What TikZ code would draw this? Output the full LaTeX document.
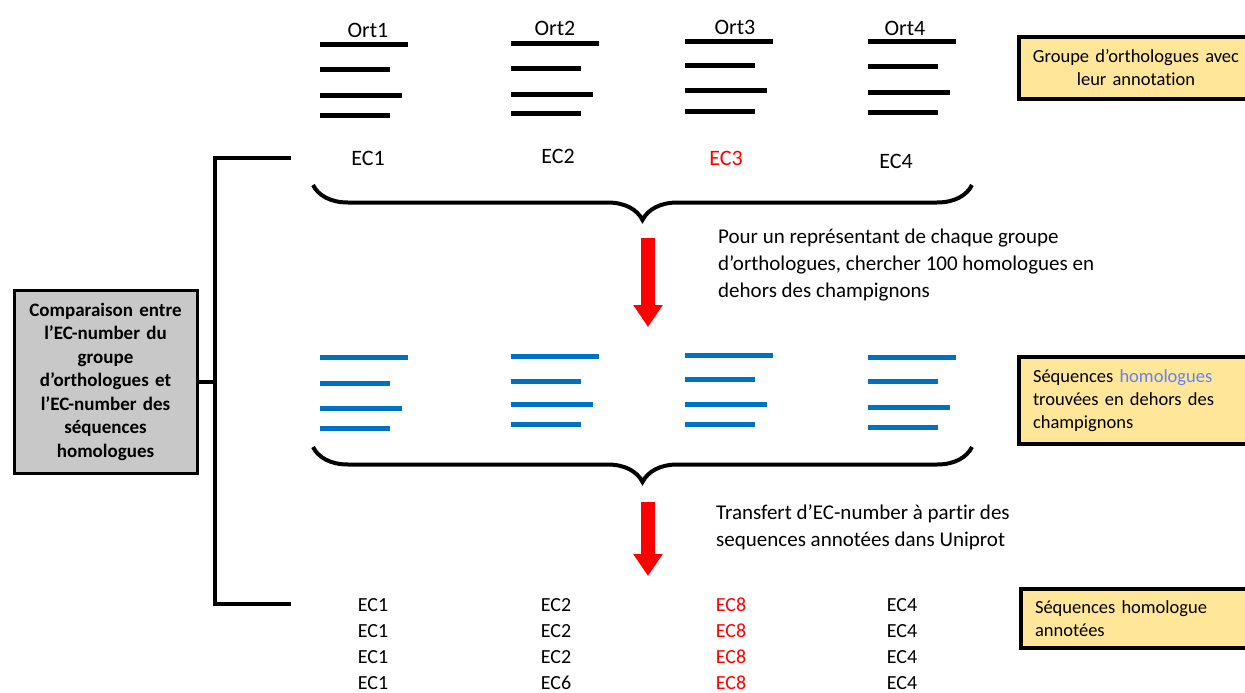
\documentclass[tikz,border=0pt]{standalone}
\usepackage{fontspec}
\setmainfont{Carlito}[Ligatures=NoCommon]
\usetikzlibrary{arrows.meta,positioning,decorations.pathreplacing,calc}
\definecolor{barblue}{RGB}{0,112,192}
\definecolor{noteyellow}{RGB}{255,230,153}
\definecolor{boxgray}{RGB}{200,200,200}
\definecolor{homblue}{RGB}{100,130,240}
\definecolor{ecred}{RGB}{255,0,0}

\begin{document}
\begin{tikzpicture}[
    x=1pt, y=-1pt,
    >=Stealth,
    bar/.style={line width=5pt},
    lbl/.style={font=\fontsize{22}{26}\selectfont, inner sep=0pt},
    ec/.style={font=\fontsize{20}{24}\selectfont, inner sep=0pt},
    note/.style={draw, line width=4pt, fill=noteyellow, inner xsep=14pt,
                 inner ysep=0pt, text width=205pt,
                 font=\fontsize{18.5}{23}\selectfont},
    curly/.style={decorate, decoration={brace, mirror, amplitude=35pt},
                  line width=4pt},
    bigarrow/.style={draw=red, line width=14pt,
                     -{Triangle[width=28pt,length=22pt]}},
    desc/.style={font=\fontsize{21}{27}\selectfont, align=left,
                 anchor=west, inner sep=0pt}
]
    \useasboundingbox (0,0) rectangle (1245,693);

    % orthologue groups (black) and homologue sequences (blue)
    \foreach \x/\a/\b/\c/\d in {320/45/70/95/115, 511/44/69/94/113,
                                685/42/66/90/111, 868/42/67/92/112}{
        \draw[bar] (\x,\a) -- ++(88,0);
        \draw[bar] (\x,\b) -- ++(70,0);
        \draw[bar] (\x,\c) -- ++(82,0);
        \draw[bar] (\x,\d) -- ++(70,0);
    }
    \foreach \x/\a/\b/\c/\d in {320/357/383/408/428, 511/356/381/404/424,
                                685/355/379/404/424, 868/357/381/407/427}{
        \draw[bar, barblue] (\x,\a) -- ++(88,0);
        \draw[bar, barblue] (\x,\b) -- ++(70,0);
        \draw[bar, barblue] (\x,\c) -- ++(82,0);
        \draw[bar, barblue] (\x,\d) -- ++(70,0);
    }

    \node[lbl] (ort1) at (368,30) {Ort1};
    \node[lbl] (ort2) at (555,28) {Ort2};
    \node[lbl] (ort3) at (735,27) {Ort3};
    \node[lbl] (ort4) at (905,28) {Ort4};

    \node[lbl] (ec1) at (368,158) {EC1};
    \node[lbl] (ec2) at (558,156) {EC2};
    \node[lbl, ecred] (ec3) at (726,158) {EC3};
    \node[lbl] (ec4) at (896,161) {EC4};

    % braces
    \draw[curly] (313,185) -- (972,185);
    \draw[curly] (313,447) -- (972,447);

    % red arrows
    \coordinate (a1s) at (648,238);
    \coordinate (a1e) at (648,327);
    \coordinate (a2s) at (648,502);
    \coordinate (a2e) at (648,576);
    \draw[bigarrow] (a1s) -- (a1e);
    \draw[bigarrow] (a2s) -- (a2e);

    \node[desc] (search) at (718,265)
        {Pour un représentant de chaque groupe\\
         d’orthologues, chercher 100 homologues en\\
         dehors des champignons};
    \node[desc] (transfer) at (716,527.5)
        {Transfert d’EC-number à partir des\\
         sequences annotées dans Uniprot};

    % transferred EC-numbers
    \foreach \y [count=\i] in {605,631,657,683}{
        \node[ec] (r\i c1) at (373,\y) {EC1};
        \node[ec, ecred] (r\i c3) at (731,\y) {EC8};
        \node[ec] (r\i c4) at (902,\y) {EC4};
    }
    \node[ec] (r1c2) at (556,605) {EC2};
    \node[ec] (r2c2) at (556,631) {EC2};
    \node[ec] (r3c2) at (556,657) {EC2};
    \node[ec] (r4c2) at (556,683) {EC6};

    % legend boxes
    \node[note, align=center, minimum height=62pt, anchor=west,
          inner xsep=2pt, text width=230pt]
        (ngroup) at (1017,68)
        {Groupe d’orthologues avec\\leur annotation};
    \node[note, align=left, minimum height=87pt, anchor=west]
        (nhom) at (1017,400.5)
        {Séquences \textcolor{homblue}{homologues}\\
         trouvées en dehors des\\champignons};
    \node[note, align=left, minimum height=59pt, anchor=west]
        (nannot) at (1019,618.5)
        {Séquences homologue\\annotées};

    % comparison box and its bracket
    \node[draw, line width=3pt, fill=boxgray, minimum width=183pt,
          minimum height=183pt, text width=175pt, align=center,
          inner sep=0pt, font=\bfseries\fontsize{19}{23.5}\selectfont]
        (cmp) at (105.5,381.5)
        {Comparaison entre\\l’EC-number du\\groupe\\d’orthologues et\\
         l’EC-number des\\séquences\\homologues};
    \coordinate (topend) at (291,158);
    \coordinate (botend) at (291,604);
    \coordinate (spine) at (215,381.5);
    \draw[line width=4pt] (topend) -| (spine) |- (botend);
    \draw[line width=4pt] (cmp.east) -- (spine);
\end{tikzpicture}
\end{document}
